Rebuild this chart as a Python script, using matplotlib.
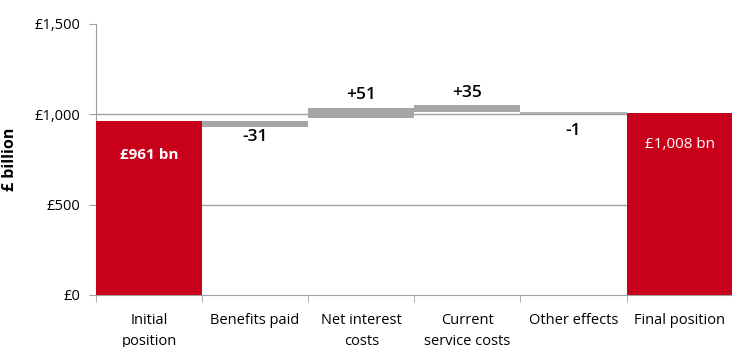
import numpy as np
import matplotlib.pyplot as plt
from matplotlib.ticker import FuncFormatter

categories = ["Initial\nposition", "Benefits paid", "Net interest\ncosts",
              "Current\nservice costs", "Other effects", "Final position"]
changes = [961, -31, 51, 35, -1, 1008]
# bar bottoms as drawn in the original (the steps are not perfectly chained)
bottoms = [0, 930, 982, 1014, 1008, 0]
heights = [961, 31, 51, 35, 1, 1008]
value_labels = ["£961 bn", "-31", "+51", "+35", "-1", "£1,008 bn"]
label_y = [775, 873, 1105, 1117, 905, 830]

red = '#c8001a'
grey = '#a6a6a6'
colors = [red, grey, grey, grey, grey, red]

plt.rcParams['font.family'] = ['Open Sans', 'DejaVu Sans']

fig = plt.figure(figsize=(7.32, 3.47), dpi=100)
ax = fig.add_axes([0.131, 0.150, 0.870, 0.781])

x = np.arange(len(categories))
ax.bar(x, heights, bottom=bottoms, width=1.0, color=colors,
       edgecolor=colors, linewidth=[0, 0, 0, 0, 1.2, 0], zorder=3)

for i, (lab, y) in enumerate(zip(value_labels, label_y)):
    if i == 0:
        ax.text(x[i], y, lab, ha='center', va='center', color='white',
                fontsize=11, fontweight='bold', zorder=4)
    elif i == len(x) - 1:
        ax.text(x[i], y, lab, ha='center', va='center', color='white',
                fontsize=11, zorder=4)
    else:
        ax.text(x[i], y, lab, ha='center', va='center', color='black',
                fontsize=12.5, fontweight='semibold', zorder=4)

ax.set_xlim(-0.5, 5.5)
ax.set_ylim(0, 1500)
ax.set_yticks([0, 500, 1000, 1500])
ax.yaxis.set_major_formatter(FuncFormatter(lambda v, p: f"£{int(v):,}"))
for y in [500, 1000]:
    ax.axhline(y, color='#a0a0a0', linewidth=1.0, zorder=1)

ax.set_xticks(x)
ax.set_xticklabels(categories, fontsize=10.5, linespacing=1.5)
ax.set_xticks(np.arange(-0.5, 6.0, 1.0), minor=True)
ax.tick_params(axis='x', which='major', length=0, pad=13)
ax.tick_params(axis='x', which='minor', length=5, color='#a0a0a0', direction='out')
ax.tick_params(axis='y', length=5, color='#a0a0a0', labelsize=10.5, pad=6)

for s in ['top', 'right']:
    ax.spines[s].set_visible(False)
for s in ['left', 'bottom']:
    ax.spines[s].set_color('#a0a0a0')

ax.set_ylabel("£ billion", fontsize=11.5, fontweight='bold', labelpad=12)

fig.savefig('out.png', dpi=100)
